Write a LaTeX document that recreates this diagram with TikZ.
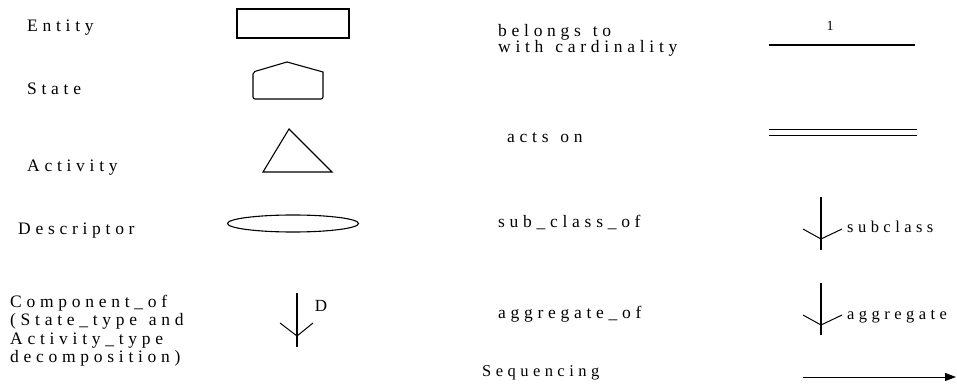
\documentclass[tikz,border=0pt]{standalone}
\usepackage{fontspec}
\setmainfont{Liberation Serif}
\newfontfamily\spaced{Liberation Serif}[LetterSpace=27, WordSpace=1.3]
\usetikzlibrary{arrows.meta,shapes.geometric}
\begin{document}
\begin{tikzpicture}[x=1pt,y=-1pt,
  lbl/.style={anchor=base west, inner sep=0pt, font=\spaced\fontsize{17.5}{18.3}\selectfont},
  small/.style={anchor=base west, inner sep=0pt, font=\spaced\fontsize{16.5}{17}\selectfont},
  shp/.style={draw, line width=1.1pt},
  conn/.style={line width=1.1pt},
  chev/.style={line width=1pt}]
\useasboundingbox[fill=white] (0,0) rectangle (957,387);

% ---- left column labels
\node[lbl] (lEntity) at (27,32) {Entity};
\node[lbl] (lState) at (27,95) {State};
\node[lbl] (lActivity) at (27,172) {Activity};
\node[lbl] (lDescr) at (18,234) {Descriptor};
\node[lbl, anchor=north west, align=left] (lComp) at (10,295) {Component\_of\\(State\_type and\\Activity\_type\\decomposition)};

% ---- left column shapes
\node[shp, rectangle, minimum width=112pt, minimum height=29pt, inner sep=0pt] (sEntity) at (293,23.5) {};
\draw[shp] (253,72) -- (287,62) -- (323,72) [rounded corners=2pt] -- (323,99) -- (253,99) -- cycle;
\coordinate (sState) at (288,85);
\draw[shp, line join=miter] (289,129) -- (332,172) -- (263,172) -- cycle;
\coordinate (sActivity) at (289,155);
\node[shp, ellipse, minimum width=131pt, minimum height=17pt, inner sep=0pt] (sDescr) at (293,223.5) {};

% component_of arrow
\coordinate (cTop) at (297,293);
\coordinate (cBot) at (297,347);
\coordinate (cTip) at (297,336);
\draw[conn] (cTop) -- (cBot);
\draw[chev] (280,323) -- (cTip) -- (313,323);
\node[anchor=center, inner sep=0pt, font=\fontsize{17}{19}\selectfont] (cD) at (321,306) {D};

% ---- right column labels
\node[lbl, anchor=north west, align=left, font=\spaced\fontsize{17.5}{16.5}\selectfont] (rBelongs) at (498,24) {belongs to\\with cardinality};
\node[lbl] (rActs) at (507,143) {acts on};
\node[lbl] (rSub) at (498,227) {sub\_class\_of};
\node[lbl] (rAgg) at (498,318) {aggregate\_of};
\node[lbl, font=\spaced\fontsize{16.5}{17}\selectfont] (rSeq) at (482,376) {Sequencing};

% belongs to with cardinality
\coordinate (bL) at (769,45);
\coordinate (bR) at (915,45);
\draw[line width=2pt] (bL) -- (bR);
\node[anchor=center, inner sep=0pt, font=\fontsize{14}{15}\selectfont] (bOne) at (830,26) {1};

% acts on
\coordinate (aL1) at (769,129.5);
\coordinate (aR1) at (917,129.5);
\coordinate (aL2) at (769,135.5);
\coordinate (aR2) at (917,135.5);
\draw[line width=0.9pt] (aL1) -- (aR1);
\draw[line width=0.9pt] (aL2) -- (aR2);

% subclass
\coordinate (sTop) at (821,197);
\coordinate (sBot) at (821,250);
\coordinate (sTip) at (821,239);
\draw[conn] (sTop) -- (sBot);
\draw[chev] (803,229) -- (sTip) -- (842,229);
\node[small] (sLbl) at (847,233) {subclass};

% aggregate
\coordinate (gTop) at (821,283);
\coordinate (gBot) at (821,335);
\coordinate (gTip) at (821,325);
\draw[conn] (gTop) -- (gBot);
\draw[chev] (803,315) -- (gTip) -- (842,315);
\node[small] (gLbl) at (847,319) {aggregate};

% sequencing
\coordinate (qL) at (803,377);
\coordinate (qR) at (956,377);
\draw[line width=0.9pt, -{Triangle[length=11pt, width=8pt]}] (qL) -- (qR);
\end{tikzpicture}
\end{document}
